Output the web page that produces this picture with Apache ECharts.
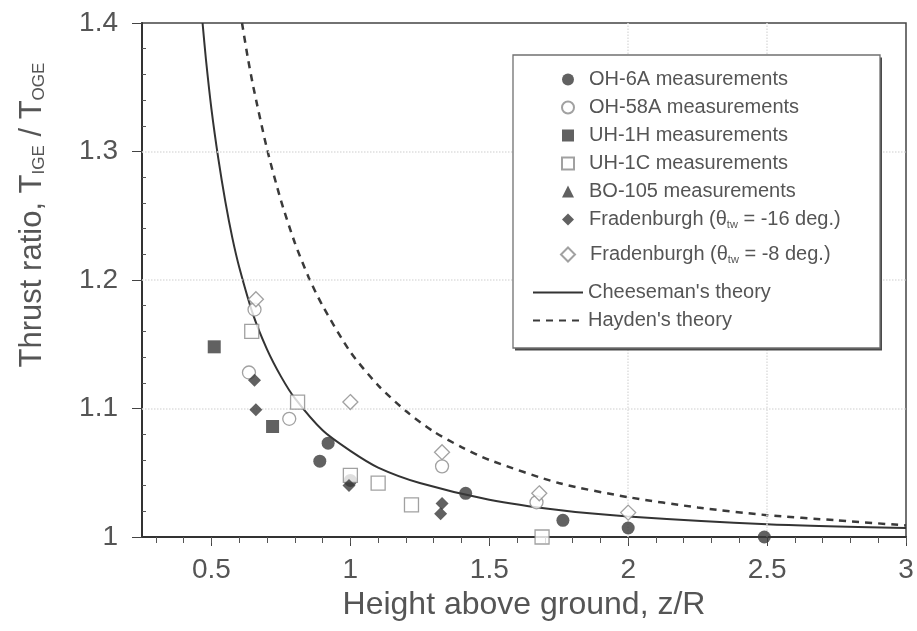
<!DOCTYPE html>
<html>
<head>
<meta charset="utf-8">
<script src="https://cdn.jsdelivr.net/npm/echarts@6/dist/echarts.min.js"></script>
<style>
  html, body { margin: 0; padding: 0; background: #fff; }
  #chart { width: 917px; height: 631px; }
</style>
</head>
<body>
<div id="chart"></div>
<script>
// axis ticks / labels
var xLabelValues = [0.5, 1, 1.5, 2, 2.5, 3];
var xMinorTicks = [0.3, 0.4, 0.5, 0.6, 0.7, 0.8, 0.9, 1.0, 1.1, 1.2, 1.3, 1.4, 1.5, 1.6, 1.7, 1.8, 1.9, 2.0,
  2.1, 2.2, 2.3, 2.4, 2.5, 2.6, 2.7, 2.8, 2.9, 3.0];
var gridX = [2, 2.5];
var gridY = [1.1, 1.2, 1.3];

// theory curves
var cheesemanX = [0.468, 0.48, 0.5, 0.525, 0.55, 0.575, 0.6, 0.65, 0.7, 0.75, 0.8, 0.9, 1.0, 1.1, 1.25, 1.5, 1.75, 2.0, 2.5, 3.0];
var cheesemanY = [1.400, 1.372, 1.333, 1.294, 1.261, 1.233, 1.210, 1.173, 1.146, 1.125, 1.108, 1.083, 1.067, 1.054, 1.042, 1.029, 1.021, 1.016, 1.010, 1.007];
var haydenX = [0.61, 0.63, 0.65, 0.7, 0.75, 0.8, 0.85, 0.9, 1.0, 1.1, 1.2, 1.3, 1.4, 1.5, 1.75, 2.0, 2.25, 2.5, 2.75, 3.0];
var haydenY = [1.400, 1.374, 1.351, 1.302, 1.262, 1.229, 1.202, 1.180, 1.144, 1.118, 1.098, 1.082, 1.070, 1.060, 1.042, 1.031, 1.023, 1.017, 1.013, 1.009];

// measurements
var oh6A = [[0.92, 1.073], [0.89, 1.059], [1.0, 1.044], [1.415, 1.034], [1.765, 1.013], [2.0, 1.007], [2.49, 1.0]];
var oh58A = [[0.635, 1.128], [0.655, 1.177], [0.78, 1.092], [1.33, 1.055], [1.67, 1.027]];
var uh1H = [[0.51, 1.148], [0.72, 1.086]];
var uh1C = [[0.645, 1.16], [0.81, 1.105], [1.0, 1.048], [1.1, 1.042], [1.22, 1.025], [1.69, 1.0]];
var bo105 = [];
var frad16 = [[0.655, 1.122], [0.66, 1.099], [0.995, 1.040], [1.33, 1.026], [1.325, 1.018]];
var frad8 = [[0.66, 1.185], [1.0, 1.105], [1.33, 1.066], [1.68, 1.034], [2.0, 1.019]];

var FONT = '"Liberation Sans", Arial, sans-serif';
var TXT = '#555';
var INK = '#3a3a3a';

function zip(xs, ys) {
  return xs.map(function (x, i) { return [x, ys[i]]; });
}

var filled = { color: INK };
var hollow = { color: '#fff', borderColor: '#8a8a8a', borderWidth: 1.3 };

function scatter(name, data, symbol, size, style) {
  return {
    name: name, type: 'scatter', data: data, symbol: symbol, symbolSize: size,
    itemStyle: style, z: 5
  };
}

var legendText = {
  fontSize: 20, color: TXT, fontFamily: FONT, lineHeight: 21,
  rich: {
    s: { fontSize: 11, verticalAlign: 'bottom', color: TXT, fontFamily: FONT },
    p: { width: 10 }
  }
};
function subFmt(n) { return '{p|}' + n.replace('θtw', 'θ{s|tw}'); }

var noMark = { color: 'rgba(0,0,0,0)', borderColor: 'rgba(0,0,0,0)', borderWidth: 0 };

var chart = echarts.init(document.getElementById('chart'));
var option = {
  animation: false,
  backgroundColor: '#fff',
  textStyle: { fontFamily: FONT },
  grid: { left: 142, right: 11, top: 23, bottom: 94, show: true, borderColor: '#444', borderWidth: 1.5 },
  xAxis: [{
    type: 'value', min: 0.25, max: 3,
    axisLine: { lineStyle: { color: '#333', width: 2 } },
    axisTick: { customValues: xLabelValues, length: 9, lineStyle: { color: '#444' } },
    axisLabel: { customValues: xLabelValues, fontSize: 28, color: TXT, margin: 19, fontFamily: FONT },
    splitLine: { show: false },
    name: 'Height above ground, z/R', nameLocation: 'middle', nameGap: 52,
    nameTextStyle: { fontSize: 32, color: TXT, fontFamily: FONT }
  }, {
    type: 'value', min: 0.25, max: 3, position: 'bottom',
    axisLine: { show: false },
    axisTick: { customValues: xMinorTicks, length: 6, lineStyle: { color: '#555' } },
    axisLabel: { show: false },
    splitLine: { show: false }
  }],
  yAxis: [{
    type: 'value', min: 1, max: 1.4, interval: 0.1,
    axisLine: { show: true, lineStyle: { color: '#333', width: 2 } },
    axisTick: { show: true, length: 10, lineStyle: { color: '#444' } },
    axisLabel: { fontSize: 28, color: TXT, margin: 24, fontFamily: FONT },
    splitLine: { show: false }
  }, {
    type: 'value', min: 1, max: 1.4, interval: 0.1, position: 'left',
    axisLine: { show: false },
    axisTick: { show: false, inside: true },
    minorTick: { show: true, splitNumber: 5, length: 4, lineStyle: { color: '#555' } },
    axisLabel: { show: false },
    splitLine: { show: false }
  }],
  legend: [{
    orient: 'vertical', left: 556, top: 64, itemWidth: 12, itemHeight: 12, itemGap: 7, z: 20,
    textStyle: legendText, formatter: subFmt,
    data: ['OH-6A measurements', 'OH-58A measurements', 'UH-1H measurements', 'UH-1C measurements',
      'BO-105 measurements', 'Fradenburgh (θtw = -16 deg.)']
  }, {
    orient: 'vertical', left: 555, top: 239, itemWidth: 14, itemHeight: 14, z: 20,
    textStyle: legendText, formatter: subFmt,
    data: ['Fradenburgh (θtw = -8 deg.)']
  }, {
    orient: 'vertical', left: 527, top: 277, itemWidth: 50, itemHeight: 13, itemGap: 7, z: 20,
    textStyle: { fontSize: 20, color: TXT, fontFamily: FONT, lineHeight: 21 },
    data: [{ name: "Cheeseman's theory", itemStyle: noMark }, { name: "Hayden's theory", itemStyle: noMark }]
  }],
  graphic: [{
    type: 'rect', z: 10,
    shape: { x: 515, y: 57.5, width: 367, height: 293 },
    style: { fill: '#4a4a4a' }
  }, {
    type: 'rect', z: 11,
    shape: { x: 513, y: 55, width: 367, height: 293 },
    style: { fill: '#fff', stroke: '#707070', lineWidth: 1.3 }
  }, {
    type: 'text', x: 32, y: 215, rotation: Math.PI / 2, z: 10,
    style: {
      text: 'Thrust ratio, T{s|IGE} / T{s|OGE}',
      font: '31px ' + FONT, fill: TXT, align: 'center', verticalAlign: 'middle',
      rich: { s: { fontSize: 17, fontFamily: FONT, fill: TXT, verticalAlign: 'bottom' } }
    }
  }],
  series: [
    {
      name: "Cheeseman's theory", type: 'line', data: zip(cheesemanX, cheesemanY),
      smooth: 0.25, symbol: 'none', clip: true,
      lineStyle: { color: '#333', width: 2 }, itemStyle: { color: '#333' },
      markLine: {
        silent: true, symbol: 'none', label: { show: false },
        lineStyle: { color: '#dedede', type: 'dotted', width: 1.5 },
        data: gridX.map(function (v) { return { xAxis: v }; })
          .concat(gridY.map(function (v) { return { yAxis: v }; }))
      }
    },
    {
      name: "Hayden's theory", type: 'line', data: zip(haydenX, haydenY),
      smooth: 0.25, symbol: 'none', clip: true,
      lineStyle: { color: '#3a3a3a', width: 2.5, type: [7, 6] }, itemStyle: { color: '#3a3a3a' }
    },
    scatter('OH-6A measurements', oh6A, 'circle', 13, filled),
    scatter('OH-58A measurements', oh58A, 'circle', 13, hollow),
    scatter('UH-1H measurements', uh1H, 'rect', 13, filled),
    scatter('UH-1C measurements', uh1C, 'rect', 14, hollow),
    scatter('BO-105 measurements', bo105, 'triangle', 12, filled),
    scatter('Fradenburgh (θtw = -16 deg.)', frad16, 'diamond', 13, filled),
    scatter('Fradenburgh (θtw = -8 deg.)', frad8, 'diamond', 15, hollow)
  ]
};
chart.setOption(option);
</script>
</body>
</html>
